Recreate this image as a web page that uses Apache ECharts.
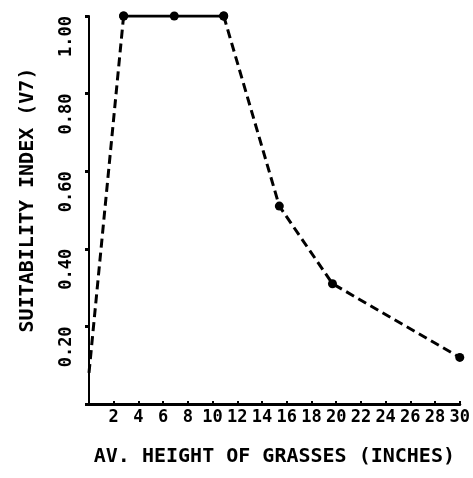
<!DOCTYPE html>
<html>
<head>
<meta charset="utf-8">
<script src="https://cdn.jsdelivr.net/npm/echarts@6/dist/echarts.min.js"></script>
<style>html,body{margin:0;padding:0;background:#fff;}#c{width:473px;height:478px;}</style>
</head>
<body>
<div id="c"></div>
<script>
// Data
const heights = [0, 2.8, 6.9, 10.9, 15.4, 19.7, 30];
const suitability = [0.08, 1.0, 1.0, 1.0, 0.51, 0.31, 0.12];
const xTicks = [2, 4, 6, 8, 10, 12, 14, 16, 18, 20, 22, 24, 26, 28, 30];
const yTicks = ['0.20', '0.40', '0.60', '0.80', '1.00'];
const xTitle = 'AV. HEIGHT OF GRASSES (INCHES)';
const yTitle = 'SUITABILITY INDEX (V7)';

const pts = heights.map((h, i) => [h, suitability[i]]);
const riseSeg = pts.slice(0, 2);
const flatSeg = pts.slice(1, 4);
const fallSeg = pts.slice(3);

const font = 'DejaVu Sans Mono';
const chart = echarts.init(document.getElementById('c'), null, {renderer: 'canvas'});
const lineBase = {type: 'line', symbol: 'circle', symbolSize: 9, animation: false,
  itemStyle: {color: '#000'}, z: 3};
chart.setOption({
  backgroundColor: '#fff',
  grid: {left: 89, right: 6, top: 16, bottom: 74},
  xAxis: {
    type: 'value', min: 0, max: 30, interval: 2,
    name: xTitle, nameLocation: 'middle', nameGap: 43,
    nameTextStyle: {fontFamily: font, fontWeight: 'bold', fontSize: 20, color: '#000'},
    axisLine: {show: true, lineStyle: {color: '#000', width: 3}},
    axisTick: {show: true, inside: true, length: 3, lineStyle: {color: '#000', width: 2}},
    axisLabel: {margin: 5, fontFamily: font, fontWeight: 'bold', fontSize: 17, color: '#000',
      formatter: v => xTicks.indexOf(v) >= 0 ? String(v) : ''},
    splitLine: {show: false}
  },
  yAxis: {
    type: 'value', min: 0, max: 1, interval: 0.2,
    name: yTitle, nameLocation: 'middle', nameGap: 51,
    nameTextStyle: {fontFamily: font, fontWeight: 'bold', fontSize: 20, color: '#000', padding: [0, 0, 0, 20]},
    axisLine: {show: true, lineStyle: {color: '#000', width: 2}},
    axisTick: {show: true, length: 4, lineStyle: {color: '#000', width: 3}},
    axisLabel: {margin: 14, rotate: 90, align: 'right', verticalAlign: 'bottom',
      fontFamily: font, fontWeight: 'bold', fontSize: 17, color: '#000',
      formatter: v => { const s = v.toFixed(2); return yTicks.indexOf(s) >= 0 ? s : ''; }},
    splitLine: {show: false}
  },
  series: [
    Object.assign({}, lineBase, {data: riseSeg.map((p, i) => i === 0 ? {value: p, symbol: 'none'} : p),
      lineStyle: {color: '#000', width: 3, type: [9, 5]}}),
    Object.assign({}, lineBase, {data: flatSeg, lineStyle: {color: '#000', width: 3, type: 'solid'}}),
    Object.assign({}, lineBase, {data: fallSeg, lineStyle: {color: '#000', width: 3, type: [9, 5]}})
  ]
});
</script>
</body>
</html>
